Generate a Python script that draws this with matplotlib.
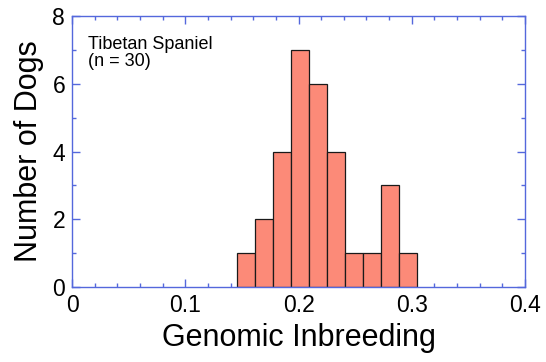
import matplotlib
matplotlib.use("Agg")
import matplotlib.pyplot as plt
from matplotlib.ticker import MultipleLocator

plt.rcParams['font.family'] = ['Liberation Sans', 'DejaVu Sans']

bin_start = 0.146
bin_width = 0.0159
counts = [1, 2, 4, 7, 6, 4, 1, 1, 3, 1]
xticks = [0, 0.1, 0.2, 0.3, 0.4]
xticklabels = ['0', '0.1', '0.2', '0.3', '0.4']
yticks = [0, 2, 4, 6, 8]

lefts = [bin_start + i * bin_width for i in range(len(counts))]

fig = plt.figure(figsize=(5.46, 3.62), dpi=100)
ax = fig.add_axes([0.132, 0.207, 0.8295, 0.7488])

blue = '#5468dc'
ax.bar(lefts, counts, width=bin_width, align='edge', color='#fc8a78',
       edgecolor='#1a1a1a', linewidth=0.9, zorder=2)

ax.set_xlim(0, 0.4)
ax.set_ylim(0, 8)
ax.set_xticks(xticks)
ax.set_xticklabels(xticklabels)
ax.set_yticks(yticks)
ax.xaxis.set_minor_locator(MultipleLocator(0.02))
ax.yaxis.set_minor_locator(MultipleLocator(1))

for s in ax.spines.values():
    s.set_color(blue)
    s.set_linewidth(1.0)
ax.tick_params(which='both', direction='in', top=True, right=True, color=blue,
               labelsize=16.5, width=1.0, zorder=3)
ax.tick_params(which='major', length=6, pad=5)
ax.tick_params(which='minor', length=3)

ax.set_xlabel('Genomic Inbreeding', fontsize=22, labelpad=4)
ax.set_ylabel('Number of Dogs', fontsize=22, labelpad=6)

ax.text(0.035, 0.925, 'Tibetan Spaniel\n(n = 30)', transform=ax.transAxes,
        fontsize=13, va='top', ha='left', linespacing=1.0)

fig.savefig('out.png', dpi=100)
